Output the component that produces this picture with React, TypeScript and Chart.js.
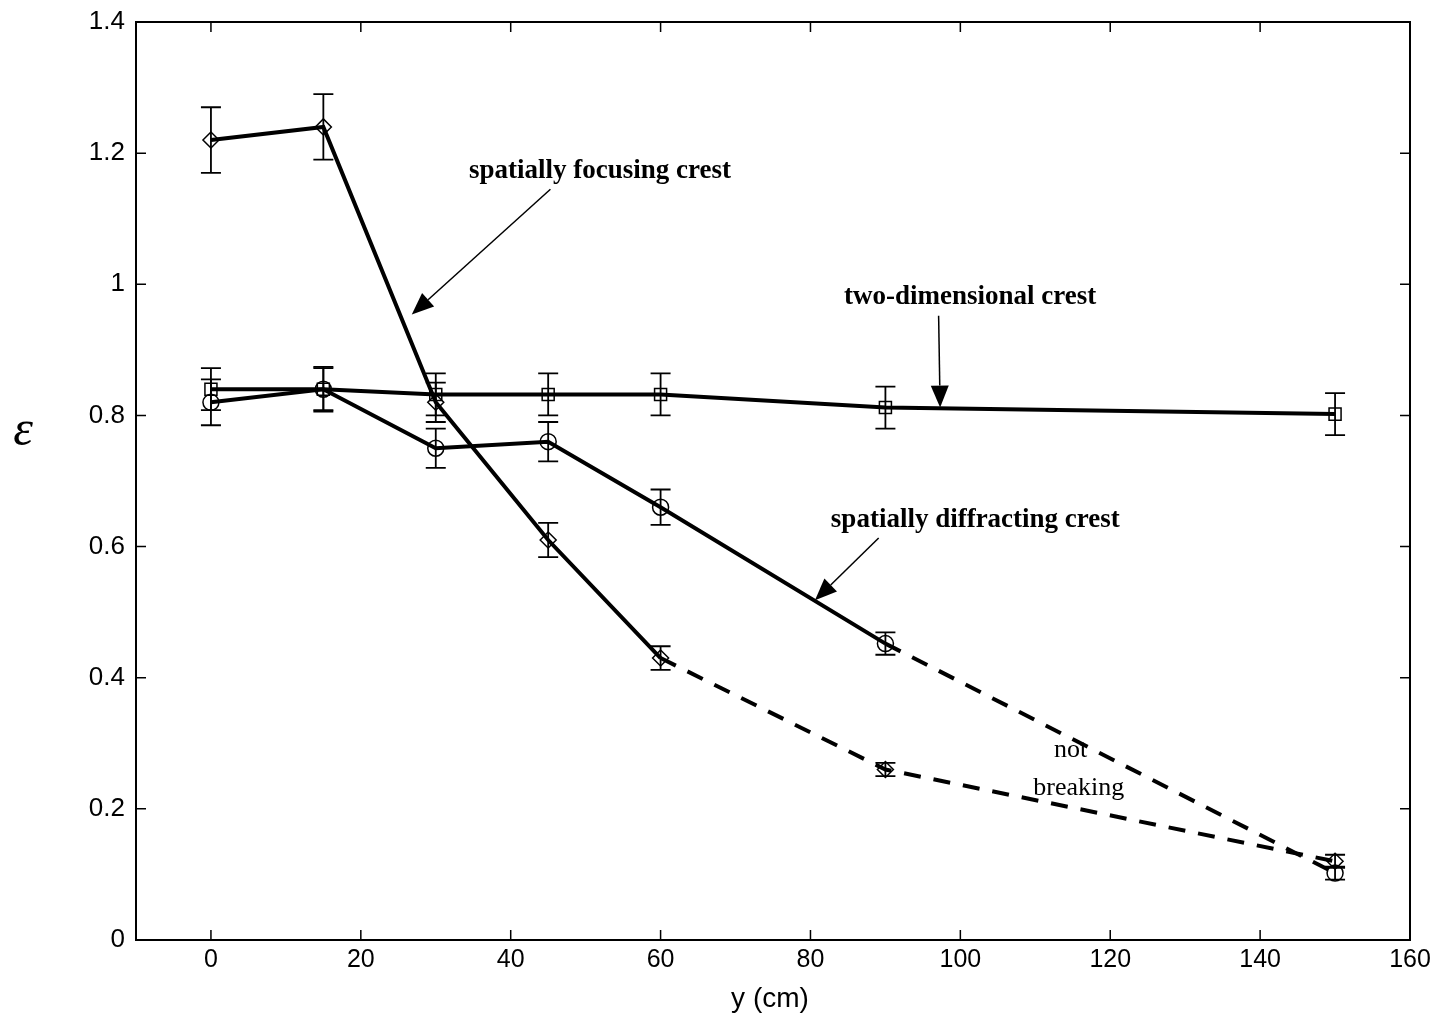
import React, { useEffect, useRef } from 'react';
import { Chart, registerables } from 'chart.js';
Chart.register(...registerables);

const yPositions = [0, 15, 30, 45, 60, 90, 150];
const focusingValues = [1.22, 1.24, 0.82, 0.61, 0.43, 0.26, 0.12];
const focusingErrors = [0.05, 0.05, 0.03, 0.026, 0.018, 0.01, 0.01];
const diffractingValues = [0.82, 0.84, 0.75, 0.76, 0.66, 0.452, 0.102];
const diffractingErrors = [0.035, 0.034, 0.03, 0.03, 0.027, 0.017, 0.01];
const twoDimValues = [0.84, 0.84, 0.832, 0.832, 0.832, 0.812, 0.802];
const twoDimErrors = [0.032, 0.032, 0.032, 0.032, 0.032, 0.032, 0.032];
const focusingDashFrom = 4;
const diffractingDashFrom = 5;

const xTicks = [0, 20, 40, 60, 80, 100, 120, 140, 160];
const yTicks = [0, 0.2, 0.4, 0.6, 0.8, 1, 1.2, 1.4];
const yTickLabels = ['0', '0.2', '0.4', '0.6', '0.8', '1', '1.2', '1.4'];

const labelTexts = ['spatially focusing crest', 'two-dimensional crest', 'spatially diffracting crest'];
const labelAnchors = [[51.9, 1.172], [101.3, 0.98], [102, 0.64]];
const arrowStarts = [[45.3, 1.145], [97.1, 0.952], [89.1, 0.613]];
const arrowTips = [[26.8, 0.954], [97.3, 0.812], [80.6, 0.518]];
const noteTexts = ['not', 'breaking'];
const noteAnchors = [[114.7, 0.289], [115.8, 0.232]];

const errorSets = [
  { values: focusingValues, errors: focusingErrors },
  { values: diffractingValues, errors: diffractingErrors },
  { values: twoDimValues, errors: twoDimErrors },
];

const toPoints = (vals: number[]) => vals.map((v, i) => ({ x: yPositions[i], y: v }));

const framePlugin = {
  id: 'frame',
  beforeDatasetsDraw(chart: any) {
    const { ctx, scales } = chart;
    const xs = scales.x, ys = scales.y;
    ctx.save();
    ctx.strokeStyle = '#000';
    ctx.lineWidth = 1.8;
    errorSets.forEach((s) => {
      s.values.forEach((v, i) => {
        const px = xs.getPixelForValue(yPositions[i]);
        const top = ys.getPixelForValue(v + s.errors[i]);
        const bot = ys.getPixelForValue(v - s.errors[i]);
        const cw = 10;
        ctx.beginPath();
        ctx.moveTo(px, top); ctx.lineTo(px, bot);
        ctx.moveTo(px - cw, top); ctx.lineTo(px + cw, top);
        ctx.moveTo(px - cw, bot); ctx.lineTo(px + cw, bot);
        ctx.stroke();
      });
    });
    ctx.restore();
  },
  afterDraw(chart: any) {
    const { ctx, chartArea: a, scales } = chart;
    const xs = scales.x, ys = scales.y;
    ctx.save();
    ctx.strokeStyle = '#000';
    ctx.lineWidth = 2;
    ctx.strokeRect(a.left, a.top, a.right - a.left, a.bottom - a.top);
    ctx.lineWidth = 1.5;
    const tl = 10;
    ctx.beginPath();
    xTicks.forEach((v) => {
      const px = xs.getPixelForValue(v);
      ctx.moveTo(px, a.bottom); ctx.lineTo(px, a.bottom - tl);
      ctx.moveTo(px, a.top); ctx.lineTo(px, a.top + tl);
    });
    yTicks.forEach((v) => {
      const py = ys.getPixelForValue(v);
      ctx.moveTo(a.left, py); ctx.lineTo(a.left + tl, py);
      ctx.moveTo(a.right, py); ctx.lineTo(a.right - tl, py);
    });
    ctx.stroke();

    ctx.fillStyle = '#000';
    ctx.textAlign = 'center';
    ctx.textBaseline = 'middle';
    ctx.font = '28px "Liberation Sans", Arial, sans-serif';
    ctx.fillText('y (cm)', 770, 999);
    ctx.font = 'italic 50px "Liberation Serif", "DejaVu Serif", serif';
    ctx.fillText('ε', 23, 432);

    ctx.font = 'bold 27px "Liberation Serif", "Times New Roman", serif';
    labelTexts.forEach((t, i) => {
      ctx.fillText(t, xs.getPixelForValue(labelAnchors[i][0]), ys.getPixelForValue(labelAnchors[i][1]));
    });
    labelTexts.forEach((_, i) => {
      const x1 = xs.getPixelForValue(arrowStarts[i][0]);
      const y1 = ys.getPixelForValue(arrowStarts[i][1]);
      const x2 = xs.getPixelForValue(arrowTips[i][0]);
      const y2 = ys.getPixelForValue(arrowTips[i][1]);
      const ang = Math.atan2(y2 - y1, x2 - x1);
      const hl = 22, hw = 9;
      const bx = x2 - hl * Math.cos(ang), by = y2 - hl * Math.sin(ang);
      ctx.lineWidth = 1.5;
      ctx.beginPath();
      ctx.moveTo(x1, y1); ctx.lineTo(bx, by);
      ctx.stroke();
      ctx.beginPath();
      ctx.moveTo(x2, y2);
      ctx.lineTo(bx + hw * Math.sin(ang), by - hw * Math.cos(ang));
      ctx.lineTo(bx - hw * Math.sin(ang), by + hw * Math.cos(ang));
      ctx.closePath();
      ctx.fill();
    });
    ctx.font = '26px "Liberation Serif", "Times New Roman", serif';
    noteTexts.forEach((t, i) => {
      ctx.fillText(t, xs.getPixelForValue(noteAnchors[i][0]), ys.getPixelForValue(noteAnchors[i][1]));
    });
    ctx.restore();
  },
};

const dashSeg = (from: number) => ({
  borderDash: (c: any) => (c.p0DataIndex >= from ? [17, 13] : undefined),
});

export default function App() {
  const ref = useRef<HTMLCanvasElement>(null);
  useEffect(() => {
    document.body.style.margin = '0';
    const family = '"Liberation Sans", Arial, sans-serif';
    const common = {
      borderColor: '#000',
      borderWidth: 4,
      pointBorderColor: '#000',
      pointBackgroundColor: 'rgba(0,0,0,0)',
      pointBorderWidth: 1.5,
      pointRadius: 8,
      fill: false,
      tension: 0,
    };
    const chart = new Chart(ref.current!, {
      type: 'line',
      data: {
        datasets: [
          { ...common, label: 'spatially focusing crest', data: toPoints(focusingValues), pointStyle: 'rectRot', segment: dashSeg(focusingDashFrom) },
          { ...common, label: 'spatially diffracting crest', data: toPoints(diffractingValues), pointStyle: 'circle', pointRadius: 8, segment: dashSeg(diffractingDashFrom) },
          { ...common, label: 'two-dimensional crest', data: toPoints(twoDimValues), pointStyle: 'rect', pointRadius: 8.5 },
        ] as any,
      },
      options: {
        animation: false,
        responsive: false,
        layout: { padding: { top: 22, right: 31, left: 0, bottom: 0 } },
        plugins: { legend: { display: false }, tooltip: { enabled: false } },
        scales: {
          x: {
            type: 'linear',
            min: -10,
            max: 160,
            grid: { display: false, drawTicks: false },
            border: { display: false },
            afterBuildTicks: (s: any) => { s.ticks = xTicks.map((v) => ({ value: v })); },
            afterFit: (s: any) => { s.height = 75; s.paddingLeft = 0; s.paddingRight = 0; },
            ticks: { color: '#000', font: { family, size: 25 }, padding: 5, maxRotation: 0, callback: (v: any) => String(v) },
          },
          y: {
            type: 'linear',
            min: 0,
            max: 1.4,
            grid: { display: false, drawTicks: false },
            border: { display: false },
            afterBuildTicks: (s: any) => { s.ticks = yTicks.map((v) => ({ value: v })); },
            afterFit: (s: any) => { s.width = 136; s.paddingTop = 0; s.paddingBottom = 0; },
            ticks: {
              color: '#000', font: { family, size: 26 }, padding: 11,
              callback: (v: any) => { const i = yTicks.indexOf(v); return i >= 0 ? yTickLabels[i] : ''; },
            },
          },
        },
      } as any,
      plugins: [framePlugin],
    });
    return () => chart.destroy();
  }, []);
  return <canvas ref={ref} width={1441} height={1015} style={{ display: 'block' }} />;
}
